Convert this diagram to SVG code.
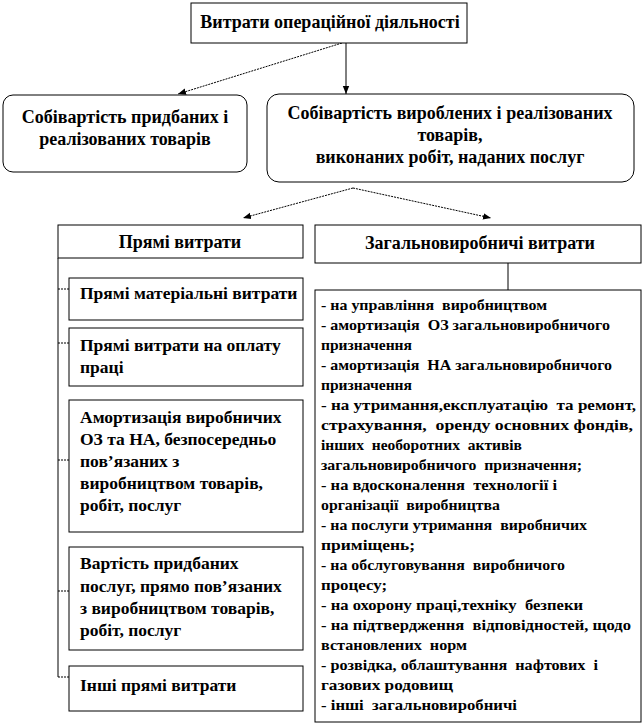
<svg xmlns="http://www.w3.org/2000/svg" width="644" height="726" viewBox="0 0 644 726">
<defs>
<style>
.box{fill:#fff;stroke:#000;stroke-width:1}
.t{font-family:"Liberation Serif","Times New Roman",serif;font-weight:bold;fill:#000}
.h{font-size:18px}
.m{font-size:17.5px}
.s{font-size:15px;white-space:pre}
.c{text-anchor:middle}
.ln{stroke:#000;stroke-width:1;fill:none}
.dl{stroke:#000;stroke-width:1;fill:none;stroke-dasharray:2 1}
</style>
<marker id="ah" viewBox="0 0 10 10" refX="10" refY="5" markerWidth="8" markerHeight="8" orient="auto" markerUnits="userSpaceOnUse">
<path d="M0,1 L10,5 L0,9 z" fill="#000"/>
</marker>
</defs>
<rect width="644" height="726" fill="#fff"/>

<g id="connectors">
<line class="dl" x1="342" y1="43" x2="178" y2="94" marker-end="url(#ah)"/>
<line class="ln" x1="346" y1="43" x2="346" y2="94" marker-end="url(#ah)"/>
<line class="dl" x1="353" y1="188" x2="243" y2="218" marker-end="url(#ah)"/>
<line class="dl" x1="353" y1="188" x2="491" y2="218" marker-end="url(#ah)"/>
<line class="ln" x1="58" y1="258" x2="58" y2="677"/>
<line class="dl" x1="58" y1="289" x2="69" y2="289"/>
<line class="dl" x1="58" y1="343" x2="69" y2="343"/>
<line class="dl" x1="58" y1="460" x2="69" y2="460"/>
<line class="dl" x1="58" y1="591" x2="69" y2="591"/>
<line class="dl" x1="58" y1="677" x2="69" y2="677"/>
<line class="ln" x1="508" y1="263" x2="508" y2="290"/>
</g>

<g id="top">
<rect class="box" x="191" y="3" width="276" height="40"/>
<text class="t h c" x="330" y="28">Витрати операційної діяльності</text>
</g>

<g id="purchased">
<rect class="box" x="3" y="95" width="244" height="77" rx="10"/>
<text class="t h c" x="125" y="123">Собівартість придбаних і</text>
<text class="t h c" x="125" y="145">реалізованих товарів</text>
</g>

<g id="produced">
<rect class="box" x="267" y="94" width="367" height="88" rx="12"/>
<text class="t h c" x="450" y="119">Собівартість вироблених і реалізованих</text>
<text class="t h c" x="450" y="141">товарів,</text>
<text class="t h c" x="450" y="163">виконаних робіт, наданих послуг</text>
</g>

<g id="direct">
<rect class="box" x="58" y="225" width="245" height="33"/>
<text class="t h c" x="180" y="248">Прямі витрати</text>
</g>

<g id="overhead">
<rect class="box" x="315" y="225" width="326" height="38"/>
<text class="t h c" x="480" y="249">Загальновиробничі витрати</text>
</g>

<g id="direct-material">
<rect class="box" x="69" y="278" width="234" height="42"/>
<text class="t m" x="80" y="299">Прямі матеріальні витрати</text>
</g>

<g id="direct-labour">
<rect class="box" x="69" y="328" width="234" height="58"/>
<text class="t m" x="80" y="351">Прямі витрати на оплату</text>
<text class="t m" x="80" y="373">праці</text>
</g>

<g id="depreciation">
<rect class="box" x="69" y="400" width="234" height="132"/>
<text class="t m" x="80" y="423">Амортизація виробничих</text>
<text class="t m" x="80" y="445">ОЗ та НА, безпосередньо</text>
<text class="t m" x="80" y="467">пов’язаних з</text>
<text class="t m" x="80" y="489">виробництвом товарів,</text>
<text class="t m" x="80" y="511">робіт, послуг</text>
</g>

<g id="services">
<rect class="box" x="69" y="547" width="234" height="103"/>
<text class="t m" x="80" y="569">Вартість придбаних</text>
<text class="t m" x="80" y="592">послуг, прямо пов’язаних</text>
<text class="t m" x="80" y="614">з виробництвом товарів,</text>
<text class="t m" x="80" y="636">робіт, послуг</text>
</g>

<g id="other-direct">
<rect class="box" x="69" y="666" width="234" height="45"/>
<text class="t m" x="80" y="691">Інші прямі витрати</text>
</g>

<g id="overhead-list">
<rect class="box" x="315" y="290" width="326" height="432"/>
<text class="t s" x="321" y="310" textLength="226" lengthAdjust="spacingAndGlyphs">- на управління  виробництвом</text>
<text class="t s" x="321" y="330" textLength="289" lengthAdjust="spacingAndGlyphs">- амортизація  ОЗ загальновиробничого</text>
<text class="t s" x="321" y="350" textLength="91" lengthAdjust="spacingAndGlyphs">призначення</text>
<text class="t s" x="321" y="370" textLength="291" lengthAdjust="spacingAndGlyphs">- амортизація  НА загальновиробничого</text>
<text class="t s" x="321" y="390" textLength="91" lengthAdjust="spacingAndGlyphs">призначення</text>
<text class="t s" x="321" y="410" textLength="315" lengthAdjust="spacingAndGlyphs">- на утримання,експлуатацію  та ремонт,</text>
<text class="t s" x="321" y="430" textLength="312" lengthAdjust="spacingAndGlyphs">страхування,  оренду основних фондів,</text>
<text class="t s" x="321" y="450" textLength="201" lengthAdjust="spacingAndGlyphs">інших  необоротних  активів</text>
<text class="t s" x="321" y="470" textLength="261" lengthAdjust="spacingAndGlyphs">загальновиробничого  призначення;</text>
<text class="t s" x="321" y="490" textLength="236" lengthAdjust="spacingAndGlyphs">- на вдосконалення  технології і</text>
<text class="t s" x="321" y="510" textLength="179" lengthAdjust="spacingAndGlyphs">організації  виробництва</text>
<text class="t s" x="321" y="530" textLength="266" lengthAdjust="spacingAndGlyphs">- на послуги утримання  виробничих</text>
<text class="t s" x="321" y="550" textLength="94" lengthAdjust="spacingAndGlyphs">приміщень;</text>
<text class="t s" x="321" y="570" textLength="244" lengthAdjust="spacingAndGlyphs">- на обслуговування  виробничого</text>
<text class="t s" x="321" y="590" textLength="66" lengthAdjust="spacingAndGlyphs">процесу;</text>
<text class="t s" x="321" y="610" textLength="262" lengthAdjust="spacingAndGlyphs">- на охорону праці,техніку  безпеки</text>
<text class="t s" x="321" y="630" textLength="310" lengthAdjust="spacingAndGlyphs">- на підтвердження  відповідностей, щодо</text>
<text class="t s" x="321" y="650" textLength="146" lengthAdjust="spacingAndGlyphs">встановлених  норм</text>
<text class="t s" x="321" y="670" textLength="277" lengthAdjust="spacingAndGlyphs">- розвідка, облаштування  нафтових  і</text>
<text class="t s" x="321" y="690" textLength="132" lengthAdjust="spacingAndGlyphs">газових родовищ</text>
<text class="t s" x="321" y="710" textLength="196" lengthAdjust="spacingAndGlyphs">- інші  загальновиробничі</text>
</g>
</svg>
